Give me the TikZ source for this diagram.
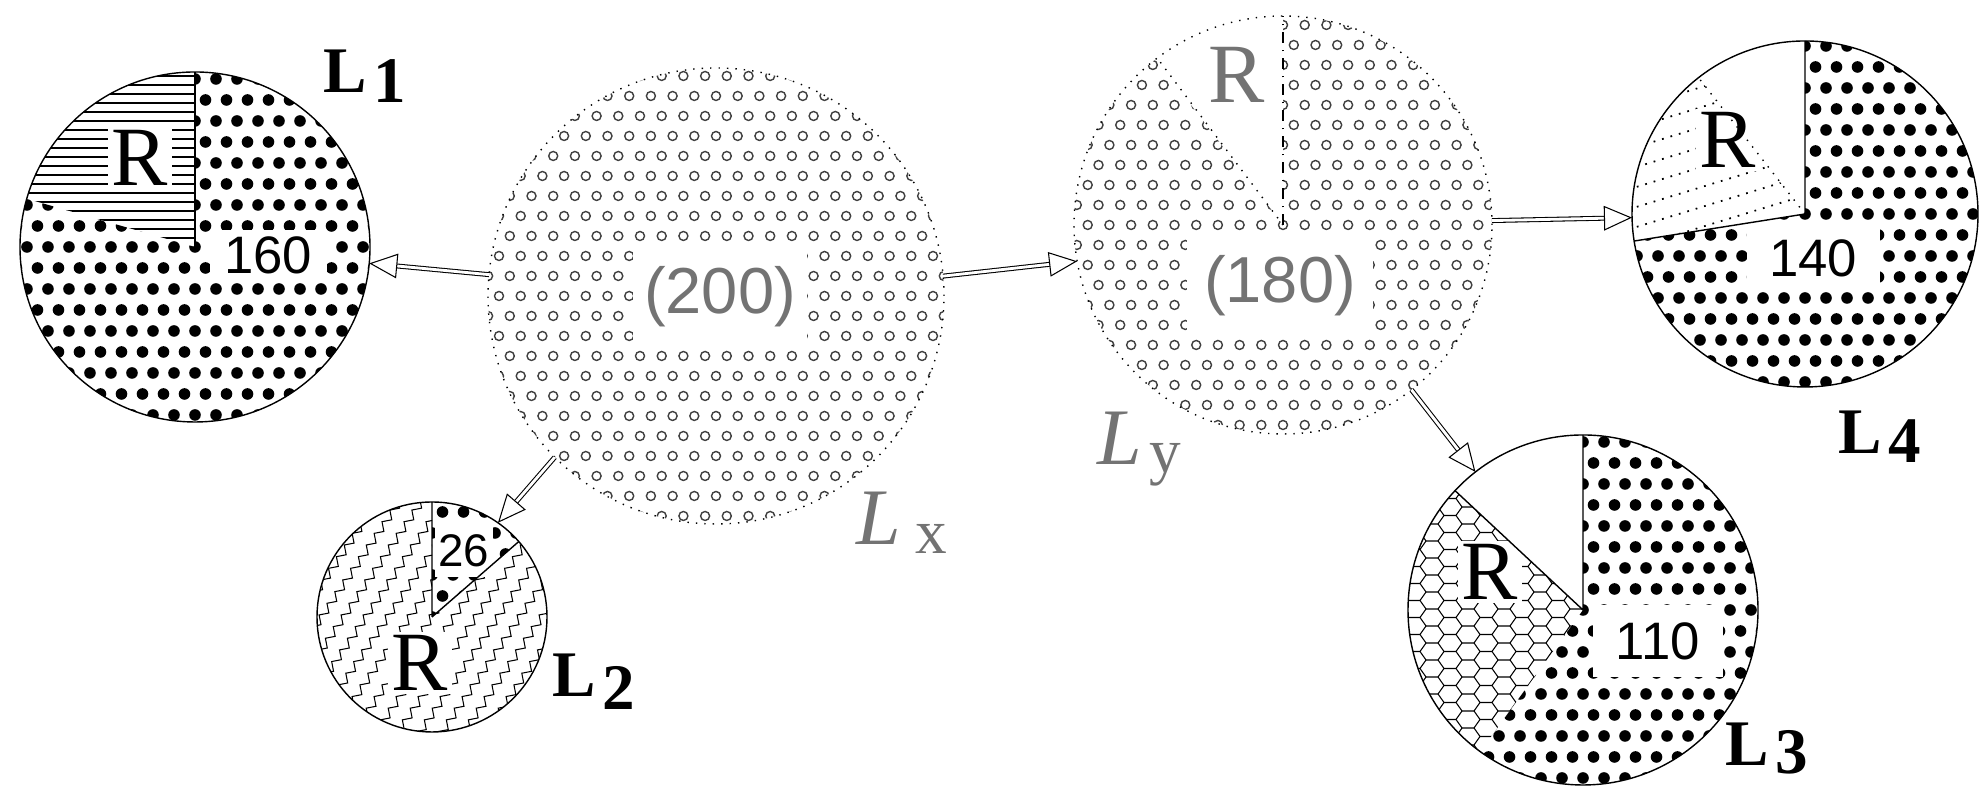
\documentclass[tikz,border=0pt]{standalone}
\usepackage{fontspec}
\setmainfont{Liberation Serif}
\setsansfont{Liberation Sans}
\usetikzlibrary{arrows.meta,decorations.pathmorphing}
\definecolor{halfG}{gray}{0.45}
\definecolor{ringG}{gray}{0.25}

% filling of the pies
\newcommand{\bigdots}[2]{\foreach \i in {-9,...,9} \foreach \j in {-9,...,9}
  \fill ({#1+\i*0.21+mod(\j+20,2)*0.105},{#2+\j*0.21}) circle (0.058);}
\newcommand{\rings}[2]{\foreach \i in {-11,...,11} \foreach \j in {-12,...,12}
  \draw[ringG,line width=0.4pt] ({#1+\i*0.217+mod(\j+20,2)*0.108},{#2+\j*0.2}) circle (0.045);}

\begin{document}
\begin{tikzpicture}[>={Triangle[open,fill=white,length=8pt,width=7pt]},
  pie/.style={circle,draw,line width=0.4pt,inner sep=0pt,outer sep=0pt},
  num/.style={fill=white,inner sep=0pt,font=\sffamily\fontsize{15}{15}\selectfont},
  bignum/.style={fill=white,inner sep=0pt,text=halfG,font=\sffamily\fontsize{18.5}{18.5}\selectfont},
  rlab/.style={fill=white,inner sep=1pt,font=\fontsize{24}{24}\selectfont},
  lab/.style={anchor=base west,font=\bfseries\fontsize{18.5}{20}\selectfont},
  glab/.style={anchor=base west,text=halfG,font=\itshape\fontsize{22.8}{24}\selectfont},
  link/.style={double,double distance=0.8pt,line width=0.3pt,->}]
\useasboundingbox (0,0) rectangle (19.8,7.92);
% Lx
\begin{scope} \clip (7.16,4.96) circle (2.28); \rings{7.16}{4.96} \end{scope}
\node[pie,dotted,minimum size=4.56cm] (lx) at (7.16,4.96) {};
\node[bignum,minimum width=1.74cm,minimum height=0.93cm] (vx) at (7.20,4.955) {(200)};
\node[glab] (labx) at (8.44,2.47) {L\hspace{4pt}\raisebox{-2.3pt}{\upshape\fontsize{18}{18}\selectfont x}};
% Ly
\begin{scope} \clip (12.83,5.67) -- ++(127.5:2.09) arc[start angle=127.5,end angle=450,radius=2.09] -- cycle; \rings{12.83}{5.67} \end{scope}
\node[pie,dotted,minimum size=4.18cm] (ly) at (12.83,5.67) {};
\draw[dash dot] (ly.center) -- (ly.north);
\draw[dotted] (ly.center) -- (ly.127.5);
\node[bignum,minimum width=1.86cm,minimum height=1.0cm] (vy) at (12.80,5.06) {(180)};
\node[rlab,text=halfG] (ry) at (12.37,7.17) {R};
\node[glab] (laby) at (10.85,3.27) {L\hspace{2pt}\raisebox{-2pt}{\upshape\fontsize{18}{18}\selectfont y}};
% L1
\begin{scope} \clip (1.95,5.45) -- ++(90:1.75) arc[start angle=90,end angle=164,radius=1.75] -- cycle;
  \foreach \k in {0,...,20} \draw[line width=0.3pt] (0,{5.45+\k*0.09}) -- ++(4,0); \end{scope}
\begin{scope} \clip (1.95,5.45) -- ++(164:1.75) arc[start angle=164,end angle=450,radius=1.75] -- cycle; \bigdots{1.95}{5.45} \end{scope}
\node[pie,minimum size=3.5cm] (l1) at (1.95,5.45) {};
\node[num,minimum width=1.17cm,minimum height=0.5cm] (v1) at (2.68,5.37) {160};
\node[rlab] (r1) at (1.40,6.34) {R};
\draw (l1.center) -- (l1.north);
\node[lab] (lab1) at (3.11,6.99) {L\hspace{2pt}\raisebox{-2.85pt}{1}};
% L2
\begin{scope} \clip (4.32,1.75) -- ++(41:1.15) arc[start angle=41,end angle=90,radius=1.15] -- cycle; \bigdots{4.32}{1.75} \end{scope}
\begin{scope} \clip (4.32,1.75) -- ++(90:1.15) arc[start angle=90,end angle=401,radius=1.15] -- cycle;
  \foreach \k in {-10,...,10} \draw[decorate,decoration={zigzag,segment length=4pt,amplitude=1pt},line width=0.3pt] ({4.32+\k*0.22-1.12},0.09) -- ++(56:4); \end{scope}
\node[pie,minimum size=2.3cm] (l2) at (4.32,1.75) {};
\node[num,font=\sffamily\fontsize{13}{13}\selectfont,minimum width=0.58cm,minimum height=0.52cm] (v2) at (4.64,2.41) {26};
\node[rlab] (r2) at (4.20,1.29) {R};
\draw (l2.center) -- (l2.north) (l2.center) -- (l2.41);
\node[lab] (lab2) at (5.40,0.95) {L\hspace{2pt}\raisebox{-3.7pt}{2}};
% L4
\begin{scope} \clip (18.05,5.78) -- ++(128:1.73) arc[start angle=128,end angle=189,radius=1.73] -- cycle;
  \foreach \k in {-5,...,9} \draw[dotted,line width=0.5pt] (16.2,{5.8+\k*0.2}) -- ++(17:4); \end{scope}
\begin{scope} \clip (18.05,5.78) -- ++(189:1.73) arc[start angle=189,end angle=450,radius=1.73] -- cycle; \bigdots{18.05}{5.78} \end{scope}
\node[pie,minimum size=3.46cm] (l4) at (18.05,5.78) {};
\node[num,minimum width=1.33cm,minimum height=0.57cm] (v4) at (18.13,5.34) {140};
\node[rlab] (r4) at (17.28,6.52) {R};
\draw (l4.center) -- (l4.north) (l4.center) -- (l4.189);
\draw[dotted] (l4.center) -- (l4.128);
\node[lab] (lab4) at (18.26,3.38) {L\hspace{2pt}\raisebox{-2.3pt}{4}};
% L3
\begin{scope} \clip (15.83,1.82) -- ++(137:1.75) arc[start angle=137,end angle=234,radius=1.75] -- cycle;
  \foreach \i in {0,...,5} \foreach \k in {0,...,17}
    \draw[line width=0.3pt] ({13.9+\i*0.36},{0.3+\k*0.17}) -- ++(0.12,0) -- ++(0.06,0.085) -- ++(0.12,0) -- ++(0.06,-0.085)
      ++(-0.24,0) -- ++(0.06,-0.085) ++(0.12,0) -- ++(0.06,0.085); \end{scope}
\begin{scope} \clip (15.83,1.82) -- ++(234:1.75) arc[start angle=234,end angle=450,radius=1.75] -- cycle; \bigdots{15.83}{1.82} \end{scope}
\node[pie,minimum size=3.5cm] (l3) at (15.83,1.82) {};
\node[num,minimum width=1.30cm,minimum height=0.72cm] (v3) at (16.58,1.51) {110};
\node[rlab] (r3) at (14.90,2.20) {R};
\draw (l3.center) -- (l3.north) (l3.center) -- (l3.137);
\node[lab] (lab3) at (17.13,0.26) {L\hspace{2pt}\raisebox{-2pt}{3}};
% arrows
\draw[link] (lx) -- (l1);
\draw[link] (lx.225) -- (l2.55);
\draw[link] (lx.5) -- (ly.190);
\draw[link] (ly) -- (l4);
\draw[link] (ly) -- (l3);
\end{tikzpicture}
\end{document}
